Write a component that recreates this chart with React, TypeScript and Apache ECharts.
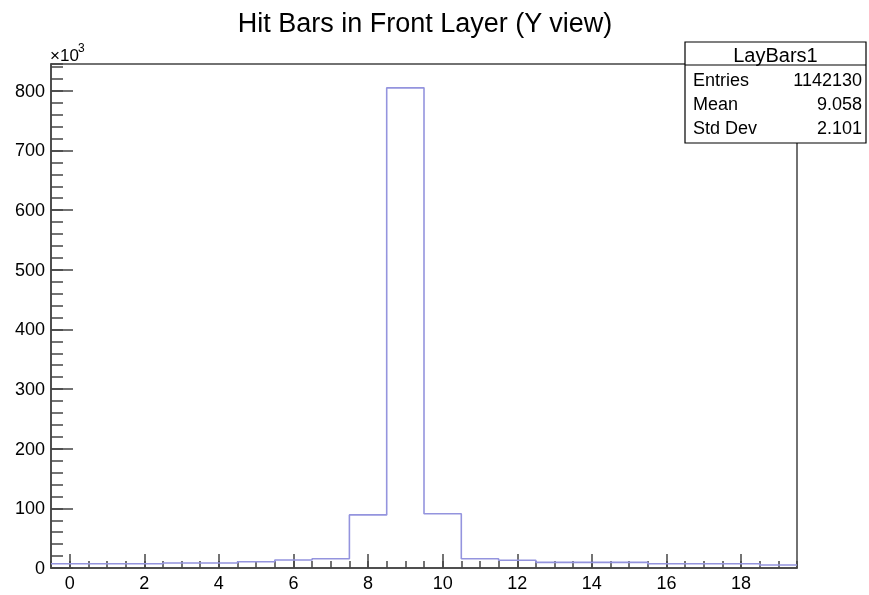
import React, { useEffect, useRef } from 'react';
import * as echarts from 'echarts';

// ---- data ----
const chartTitle = 'Hit Bars in Front Layer (Y view)';
const binCenters = [0, 1, 2, 3, 4, 5, 6, 7, 8, 9, 10, 11, 12, 13, 14, 15, 16, 17, 18, 19];
// counts in units of 10^3
const binCountsK = [7, 7, 7, 8.5, 8.5, 10.5, 13.5, 15.5, 89, 805, 91, 15.5, 13, 9.5, 9.5, 9.5, 7, 7, 7, 5];
const xMajorTicks = [0, 2, 4, 6, 8, 10, 12, 14, 16, 18];
const yTickLabels = [0, 100, 200, 300, 400, 500, 600, 700, 800];
const histName = 'LayBars1';
const statLabels = ['Entries', 'Mean', 'Std Dev'];
const statValues = ['1142130', '9.058', '2.101'];

const xMin = -0.5;
const xMax = 19.5;
const yMin = 0;
const yMax = 845;

const FONT = '"Liberation Sans", Arial, Helvetica, sans-serif';
const AXIS_COLOR = '#444';

export default function App() {
  const ref = useRef<HTMLDivElement>(null);

  useEffect(() => {
    if (!ref.current) return;
    const chart = echarts.init(ref.current, null, { renderer: 'svg' });

    const binWidth = binCenters[1] - binCenters[0];
    const stepData: number[][] = [];
    binCenters.forEach((c, i) => {
      stepData.push([c - binWidth / 2, binCountsK[i]]);
      stepData.push([c + binWidth / 2, binCountsK[i]]);
    });

    const boxX = 685;
    const boxY = 42;
    const boxW = 181;
    const boxH = 101;
    const headerH = 23;
    const rowH = 24;

    const statEls: any[] = [];
    statLabels.forEach((lab, i) => {
      const cy = boxY + headerH + 15 + i * rowH;
      statEls.push({
        type: 'text',
        x: boxX + 8,
        y: cy,
        z: 101,
        style: { text: lab, fontSize: 18, fontFamily: FONT, fill: '#000', align: 'left', textAlign: 'left', verticalAlign: 'middle', textVerticalAlign: 'middle' },
      });
      statEls.push({
        type: 'text',
        x: boxX + boxW - 4,
        y: cy,
        z: 101,
        style: { text: statValues[i], fontSize: 18, fontFamily: FONT, fill: '#000', align: 'right', textAlign: 'right', verticalAlign: 'middle', textVerticalAlign: 'middle' },
      });
    });

    const option: any = {
      animation: false,
      grid: {
        left: 51,
        right: 72,
        top: 64,
        bottom: 27,
        show: true,
        borderColor: AXIS_COLOR,
        borderWidth: 1.5,
        backgroundColor: 'transparent',
        containLabel: false,
        outerBoundsMode: 'none',
      },
      xAxis: [
        {
          type: 'value',
          min: xMin,
          max: xMax,
          position: 'bottom',
          axisLine: { show: true, onZero: false, lineStyle: { color: AXIS_COLOR, width: 1.5 } },
          axisTick: { show: true, inside: true, length: 14, customValues: xMajorTicks, lineStyle: { color: AXIS_COLOR, width: 1.5 } },
          axisLabel: { show: true, customValues: xMajorTicks, fontSize: 18, color: '#000', fontFamily: FONT, margin: 6 },
          splitLine: { show: false },
        },
        {
          type: 'value',
          min: xMin,
          max: xMax,
          interval: 0.5,
          position: 'bottom',
          axisLine: { show: false, onZero: false },
          axisTick: { show: true, inside: true, length: 7, lineStyle: { color: AXIS_COLOR, width: 1.5 } },
          axisLabel: { show: false },
          splitLine: { show: false },
        },
      ],
      yAxis: [
        {
          type: 'value',
          min: yMin,
          max: yMax,
          position: 'left',
          axisLine: { show: true, onZero: false, lineStyle: { color: AXIS_COLOR, width: 1.5 } },
          axisTick: { show: true, inside: true, length: 22, customValues: yTickLabels, lineStyle: { color: AXIS_COLOR, width: 1.5 } },
          axisLabel: { show: true, customValues: yTickLabels, fontSize: 18, color: '#000', fontFamily: FONT, margin: 6 },
          splitLine: { show: false },
        },
        {
          type: 'value',
          min: yMin,
          max: yMax,
          interval: 20,
          position: 'left',
          axisLine: { show: false, onZero: false },
          axisTick: { show: true, inside: true, length: 12, lineStyle: { color: AXIS_COLOR, width: 1.5 } },
          axisLabel: { show: false },
          splitLine: { show: false },
        },
      ],
      series: [
        {
          type: 'line',
          name: histName,
          xAxisIndex: 0,
          yAxisIndex: 0,
          data: stepData,
          symbol: 'none',
          lineStyle: { color: '#9494de', width: 1.6 },
          z: 3,
        },
      ],
      graphic: [
        {
          type: 'text',
          x: 425,
          y: 23,
          z: 100,
          style: { text: chartTitle, fontSize: 27, fontFamily: FONT, fill: '#000', align: 'center', textAlign: 'center', verticalAlign: 'middle', textVerticalAlign: 'middle' },
        },
        {
          type: 'text',
          x: 50,
          y: 64,
          z: 100,
          style: { text: '\u00d710', fontSize: 17, fontFamily: FONT, fill: '#000', align: 'left', textAlign: 'left', verticalAlign: 'bottom', textVerticalAlign: 'bottom' },
        },
        {
          type: 'text',
          x: 78,
          y: 54,
          z: 100,
          style: { text: '3', fontSize: 12, fontFamily: FONT, fill: '#000', align: 'left', textAlign: 'left', verticalAlign: 'bottom', textVerticalAlign: 'bottom' },
        },
        {
          type: 'rect',
          z: 100,
          shape: { x: boxX, y: boxY, width: boxW, height: boxH },
          style: { fill: '#fff', stroke: '#000', lineWidth: 1.2 },
        },
        {
          type: 'line',
          z: 101,
          shape: { x1: boxX, y1: boxY + headerH, x2: boxX + boxW, y2: boxY + headerH },
          style: { stroke: '#000', lineWidth: 1.2 },
        },
        {
          type: 'text',
          x: boxX + boxW / 2,
          y: boxY + headerH / 2 + 1,
          z: 101,
          style: { text: histName, fontSize: 20, fontFamily: FONT, fill: '#000', align: 'center', textAlign: 'center', verticalAlign: 'middle', textVerticalAlign: 'middle' },
        },
        ...statEls,
      ],
    };

    chart.setOption(option);
    return () => {
      chart.dispose();
    };
  }, []);

  return <div ref={ref} style={{ position: 'fixed', left: 0, top: 0, width: 869, height: 595 }} />;
}
